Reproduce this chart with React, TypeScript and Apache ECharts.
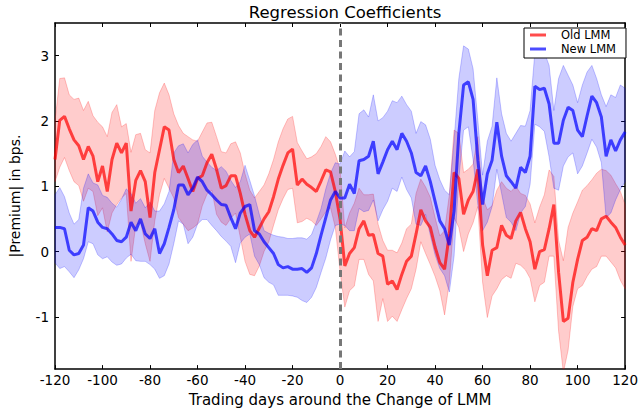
import React, { useEffect, useRef } from "react";
import * as echarts from "echarts";

const days = [
  -120, -118, -116, -114, -112, -110, -108, -106, -104, -102, -100, -98, -96, -94, -92, -90, -88, -86, -84, -82,
  -80, -78, -76, -74, -72, -70, -68, -66, -64, -62, -60, -58, -56, -54, -52, -50, -48, -46, -44, -42,
  -40, -38, -36, -34, -32, -30, -28, -26, -24, -22, -20, -18, -16, -14, -12, -10, -8, -6, -4, -2,
  0, 2, 4, 6, 8, 10, 12, 14, 16, 18, 20, 22, 24, 26, 28, 30, 32, 34, 36, 38,
  40, 42, 44, 46, 48, 50, 52, 54, 56, 58, 60, 62, 64, 66, 68, 70, 72, 74, 76, 78,
  80, 82, 84, 86, 88, 90, 92, 94, 96, 98, 100, 102, 104, 106, 108, 110, 112, 114, 116, 118, 120,
];

const oldMid = [
  1.41, 2.01, 2.07, 1.88, 1.71, 1.62, 1.41, 1.61, 1.46, 1.07, 1.31, 0.92, 1.41, 1.66, 1.51, 1.66, 0.62, 1.09, 1.24, 1.07,
  0.52, 1.21, 1.56, 1.91, 1.86, 1.41, 1.21, 1.31, 1.12, 0.92, 1.12, 1.16, 1.36, 1.49, 1.26, 0.97, 1.01, 1.16, 1.16, 0.89,
  0.57, 0.32, 0.22, 0.36, 0.5, 0.61, 0.84, 1.11, 1.32, 1.51, 1.57, 1.02, 1.11, 1.03, 0.98, 0.92, 1.08, 1.25, 1.22, 0.92,
  0.5, -0.22, -0.03, 0.06, 0.35, 0.47, 0.25, 0.26, -0.03, -0.07, -0.5, -0.45, -0.58, -0.35, -0.15, -0.07, 0.27, 0.64, 0.47, 0.37,
  0.07, -0.17, -0.27, 0.27, 1.21, 1.12, 0.57, 0.79, 0.92, 1.26, 0.1, -0.37, 0.02, 0.06, 0.4, 0.25, 0.2, 0.47, 0.6, 0.35,
  0.15, -0.27, 0.0, 0.03, 0.35, 0.72, -0.32, -1.07, -1.02, -0.47, -0.12, 0.17, 0.22, 0.35, 0.32, 0.5, 0.54, 0.45, 0.37, 0.22, 0.1,
];

const oldLo = [
  1.07, 1.29, 1.44, 1.24, 1.07, 1.01, 0.77, 0.97, 0.92, 0.55, 0.67, 0.3, 0.59, 0.72, 0.82, 0.89, -0.15, 0.4, 0.45, 0.12,
  -0.15, 0.47, 0.87, 1.12, 0.97, 0.82, 0.52, 0.42, 0.32, 0.36, 0.42, 0.7, 0.88, 0.94, 0.57, 0.45, 0.4, 0.51, 0.59, 0.22,
  -0.15, -0.35, -0.37, -0.22, 0.0, 0.15, 0.4, 0.64, 0.81, 0.95, 0.97, 0.44, 0.46, 0.51, 0.47, 0.4, 0.5, 0.61, 0.67, 0.37,
  -0.3, -0.85, -0.6, -0.53, -0.12, -0.12, -0.35, -0.45, -1.07, -0.72, -1.07, -0.99, -1.07, -0.89, -0.72, -0.57, -0.27, 0.15, -0.03, -0.2,
  -0.38, -0.6, -0.97, -0.47, 0.52, 0.37, 0.0, 0.27, 0.44, 0.69, -0.47, -1.01, -0.68, -0.57, -0.43, -0.37, -0.41, -0.18, -0.21, -0.28,
  -0.41, -0.77, -0.52, -0.47, -0.07, -0.07, -1.22, -1.85, -1.51, -0.84, -0.57, -0.52, -0.38, -0.27, -0.23, -0.07, -0.07, -0.16, -0.25, -0.44, -0.57,
];

const oldHi = [
  2.0, 2.65, 2.66, 2.4, 2.33, 2.35, 2.16, 2.3, 2.08, 1.98, 1.91, 1.76, 2.13, 2.25, 1.91, 1.96, 1.52, 1.79, 1.81, 1.56,
  1.51, 2.16, 2.43, 2.58, 2.4, 2.11, 1.93, 1.81, 1.76, 1.71, 1.69, 1.83, 1.97, 1.98, 1.76, 1.53, 1.51, 1.65, 1.68, 1.51,
  1.19, 0.94, 0.82, 0.92, 1.02, 1.19, 1.41, 1.68, 1.88, 2.03, 2.07, 1.67, 1.54, 1.42, 1.45, 1.5, 1.61, 1.76, 1.68, 1.49,
  1.26, 0.36, 0.59, 0.74, 0.97, 0.87, 0.87, 0.88, 0.42, 0.17, 0.02, 0.02, -0.02, 0.13, 0.35, 0.42, 0.89, 1.11, 0.99, 0.83,
  0.52, 0.24, 0.32, 0.87, 1.86, 1.81, 1.21, 1.26, 1.34, 1.76, 0.82, 0.64, 0.7, 0.94, 1.07, 0.97, 0.92, 1.0, 0.89, 0.86,
  0.73, 0.44, 0.68, 0.87, 1.25, 1.15, 0.17, -0.14, 0.37, 0.59, 0.76, 0.94, 1.01, 1.1, 1.2, 1.26, 1.24, 1.17, 1.04, 0.92, 0.72,
];

const newMid = [
  0.37, 0.37, 0.35, 0.02, -0.05, -0.03, 0.1, 0.67, 0.62, 0.45, 0.37, 0.35, 0.27, 0.17, 0.15, 0.22, 0.45, 0.32, 0.5, 0.27,
  0.2, 0.35, -0.03, 0.12, 0.37, 0.64, 1.02, 1.02, 0.87, 0.97, 1.14, 1.07, 0.94, 0.87, 0.79, 0.72, 0.71, 0.52, 0.35, 0.59,
  0.69, 0.72, 0.32, 0.27, 0.15, 0.06, -0.03, -0.2, -0.25, -0.23, -0.27, -0.27, -0.26, -0.32, -0.25, -0.03, 0.25, 0.52, 0.79, 0.92,
  0.82, 0.82, 1.03, 0.89, 1.39, 1.41, 1.46, 1.69, 1.19, 1.37, 1.56, 1.69, 1.56, 1.81, 1.69, 1.51, 1.21, 1.16, 1.31, 1.07,
  0.77, 0.47, 0.35, 0.1, 0.62, 1.81, 2.55, 2.6, 2.33, 1.4, 0.72, 1.19, 1.4, 1.98, 1.46, 1.16, 1.07, 0.97, 1.29, 1.21,
  1.46, 2.53, 2.48, 2.5, 2.26, 1.66, 1.66, 2.01, 2.21, 2.16, 1.86, 1.76, 2.08, 2.38, 2.28, 2.06, 1.46, 1.71, 1.54, 1.71, 1.83,
];

const newLo = [
  -0.17, -0.26, -0.23, -0.31, -0.4, -0.28, -0.11, 0.15, 0.12, -0.05, -0.11, -0.08, -0.16, -0.21, -0.19, -0.1, -0.04, -0.14, -0.15, -0.15,
  -0.2, -0.27, -0.41, -0.37, -0.19, 0.12, 0.47, 0.42, 0.12, 0.22, 0.42, 0.49, 0.49, 0.4, 0.32, 0.23, 0.16, 0.08, -0.17, 0.13,
  0.22, 0.27, -0.07, -0.2, -0.4, -0.47, -0.51, -0.67, -0.67, -0.67, -0.68, -0.7, -0.75, -0.78, -0.7, -0.55, -0.32, -0.1, 0.18, 0.4,
  0.42, 0.4, 0.32, 0.32, 0.66, 0.61, 0.63, 0.79, 0.47, 0.64, 0.77, 0.97, 0.92, 1.14, 0.95, 0.82, 0.42, 0.4, 0.57, 0.25,
  -0.05, -0.26, -0.37, -0.62, -0.07, 1.12, 1.86, 1.91, 1.41, 0.72, 0.32, 0.45, 0.69, 1.26, 0.89, 0.52, 0.45, 0.32, 0.59, 0.69,
  1.03, 1.95, 1.91, 1.84, 1.45, 0.97, 0.94, 1.31, 1.45, 1.51, 1.19, 1.31, 1.51, 1.72, 1.6, 1.36, 0.52, 0.59, 0.79, 0.95, 1.07,
];

const newHi = [
  0.87, 0.98, 0.84, 0.59, 0.42, 0.49, 0.97, 1.19, 1.05, 1.02, 0.86, 0.83, 0.74, 0.68, 0.8, 0.96, 0.89, 0.74, 0.81, 0.67,
  0.76, 0.62, 0.62, 0.73, 0.92, 1.51, 1.62, 1.65, 1.51, 1.64, 1.71, 1.46, 1.37, 1.29, 1.24, 1.3, 1.23, 1.09, 0.98, 1.07,
  1.32, 1.09, 0.85, 0.57, 0.32, 0.28, 0.25, 0.23, 0.22, 0.2, 0.2, 0.21, 0.21, 0.19, 0.26, 0.45, 0.66, 0.96, 1.2, 1.36,
  1.34, 1.54, 1.45, 1.53, 2.11, 2.17, 2.06, 2.4, 2.0, 2.05, 2.15, 2.31, 2.28, 2.38, 2.25, 2.15, 1.81, 1.99, 1.94, 1.72,
  1.32, 1.1, 0.94, 0.87, 1.71, 2.65, 3.15, 3.1, 2.8, 2.01, 1.17, 1.69, 1.92, 2.66, 2.11, 1.81, 1.69, 1.81, 1.93, 1.92,
  2.16, 3.05, 3.02, 3.05, 2.85, 2.16, 2.65, 2.85, 2.7, 2.55, 2.28, 2.55, 2.75, 2.85, 2.65, 2.4, 2.22, 2.4, 2.36, 2.55, 2.5,
];

const xTicks = [-120, 120, 20];
const yTickValues = [-1, 0, 1, 2, 3];
const yRange = [-1.8, 3.5];

const FONT = "DejaVu Sans";

function pairs(vals: number[]) {
  return days.map((d, i) => [d, vals[i]]);
}

function bandSeries(name: string, lo: number[], hi: number[], fill: string, edge: string) {
  return {
    name,
    type: "custom",
    silent: true,
    clip: true,
    z: 1,
    data: days.map((d, i) => [d, lo[i], hi[i]]),
    encode: { x: 0, y: [1, 2] },
    renderItem: (params: any, api: any) => {
      if (params.dataIndex !== 0) return null;
      const top = days.map((d, i) => api.coord([d, hi[i]]));
      const bottom = days.map((d, i) => api.coord([d, lo[i]])).reverse();
      return {
        type: "polygon",
        shape: { points: top.concat(bottom) },
        style: { fill, stroke: edge, lineWidth: 1 },
      };
    },
  };
}

export default function App() {
  const ref = useRef<HTMLDivElement>(null);
  useEffect(() => {
    if (!ref.current) return;
    const chart = echarts.init(ref.current, undefined, { renderer: "svg" });
    const axisCommonX = {
      type: "value",
      min: xTicks[0],
      max: xTicks[1],
      interval: xTicks[2],
      splitLine: { show: false },
      axisLine: { show: true, onZero: false, lineStyle: { color: "#000", width: 1.5 } },
      axisTick: { show: true, inside: true, length: 4, lineStyle: { color: "#000", width: 1 } },
    };
    const axisCommonY = {
      type: "value",
      min: yRange[0],
      max: yRange[1],
      splitLine: { show: false },
      axisLine: { show: true, onZero: false, lineStyle: { color: "#000", width: 1.5 } },
      axisTick: { show: true, inside: true, length: 4, customValues: yTickValues, lineStyle: { color: "#000", width: 1 } },
    };
    const option: any = {
      animation: false,
      backgroundColor: "#fff",
      textStyle: { fontFamily: FONT },
      title: {
        text: "Regression Coefficients",
        left: 340,
        textAlign: "center",
        top: -1,
        textStyle: { fontFamily: FONT, fontSize: 16.5, fontWeight: "normal", color: "#000" },
      },
      grid: { left: 53, right: 14, top: 23, bottom: 34, containLabel: false },
      legend: {
        data: ["Old LMM", "New LMM"],
        orient: "vertical",
        left: 524,
        top: 28,
        icon: "rect",
        itemWidth: 16,
        itemHeight: 3,
        itemGap: 2,
        padding: [1, 10, 3, 6],
        borderColor: "#000",
        borderWidth: 1,
        backgroundColor: "#fff",
        textStyle: { fontFamily: FONT, fontSize: 11.5, color: "#000", padding: [0, 0, 0, 10] },
      },
      xAxis: [
        {
          ...axisCommonX,
          position: "bottom",
          name: "Trading days around the Change of LMM",
          nameLocation: "middle",
          nameGap: 20,
          nameTextStyle: { fontFamily: FONT, fontSize: 15, color: "#000" },
          axisLabel: { fontFamily: FONT, fontSize: 13.5, color: "#000", margin: 4 },
        },
        { ...axisCommonX, position: "top", axisLabel: { show: false } },
      ],
      yAxis: [
        {
          ...axisCommonY,
          position: "left",
          name: "|Premium| in bps.",
          nameLocation: "middle",
          nameGap: 33,
          nameTextStyle: { fontFamily: FONT, fontSize: 14, color: "#000" },
          axisLabel: { fontFamily: FONT, fontSize: 13.5, color: "#000", margin: 6, customValues: yTickValues },
        },
        { ...axisCommonY, position: "right", axisLabel: { show: false, customValues: yTickValues } },
      ],
      series: [
        bandSeries("oldBand", oldLo, oldHi, "rgba(255,0,0,0.2)", "rgba(255,0,0,0.22)"),
        bandSeries("newBand", newLo, newHi, "rgba(0,0,255,0.2)", "rgba(0,0,255,0.22)"),
        {
          name: "Old LMM",
          type: "line",
          data: pairs(oldMid),
          symbol: "none",
          z: 2,
          lineStyle: { width: 3, color: "rgba(255,0,0,0.7)" },
          itemStyle: { color: "rgba(255,0,0,0.7)" },
        },
        {
          name: "New LMM",
          type: "line",
          data: pairs(newMid),
          symbol: "none",
          z: 2,
          lineStyle: { width: 3, color: "rgba(0,0,255,0.7)" },
          itemStyle: { color: "rgba(0,0,255,0.7)" },
          markLine: {
            silent: true,
            symbol: "none",
            label: { show: false },
            lineStyle: { color: "#777", width: 3, type: [7, 4.5] },
            data: [{ xAxis: 0 }],
          },
        },
      ],
    };
    chart.setOption(option);
    return () => chart.dispose();
  }, []);
  return (
    <div
      ref={ref}
      style={{ position: "fixed", left: 0, top: 0, width: 641, height: 412, background: "#fff" }}
    />
  );
}
